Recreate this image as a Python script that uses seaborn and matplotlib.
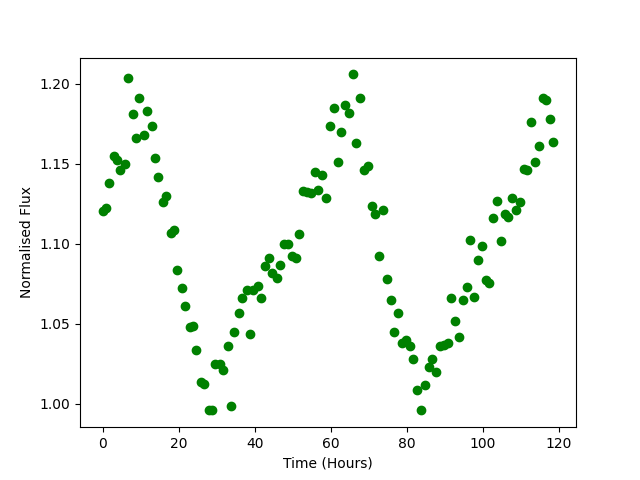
import numpy as np
import pandas as pd
import matplotlib
matplotlib.use("Agg")
import matplotlib.pyplot as plt
import seaborn as sns

# tempo em horas e fluxo normalizado
tempo = [0.0, 0.8, 1.8, 2.9, 3.9, 4.7, 5.8, 6.8, 7.9, 8.9,
         9.7, 10.8, 11.8, 12.9, 13.9, 14.7, 15.8, 16.8, 17.9, 18.9,
         19.7, 20.8, 21.8, 22.9, 23.7, 24.7, 25.8, 26.8, 27.9, 28.7,
         29.7, 30.8, 31.8, 32.9, 33.7, 34.7, 35.8, 36.8, 37.9, 38.7,
         39.7, 40.8, 41.8, 42.6, 43.7, 44.7, 45.8, 46.8, 47.6, 48.7,
         49.7, 50.8, 51.8, 52.6, 53.7, 54.7, 55.8, 56.8, 57.6, 58.7,
         59.7, 60.8, 61.8, 62.6, 63.7, 64.7, 65.8, 66.6, 67.6, 68.7,
         69.7, 70.8, 71.6, 72.6, 73.7, 74.7, 75.8, 76.6, 77.6, 78.7,
         79.7, 80.8, 81.6, 82.6, 83.7, 84.7, 85.8, 86.6, 87.6, 88.7,
         89.7, 90.8, 91.6, 92.6, 93.7, 94.7, 95.8, 96.6, 97.6, 98.7,
         99.7, 100.8, 101.6, 102.6, 103.7, 104.7, 105.8, 106.6, 107.6, 108.7,
         109.7, 110.8, 111.6, 112.6, 113.7, 114.7, 115.8, 116.6, 117.6, 118.6]

fluxo = [1.1206, 1.1223, 1.138, 1.155, 1.1525, 1.146, 1.150, 1.2035, 1.181, 1.166,
         1.191, 1.168, 1.183, 1.174, 1.154, 1.142, 1.126, 1.130, 1.107, 1.109,
         1.084, 1.0725, 1.061, 1.048, 1.049, 1.034, 1.014, 1.0125, 0.996, 0.996,
         1.025, 1.025, 1.021, 1.036, 0.999, 1.045, 1.057, 1.066, 1.071, 1.044,
         1.071, 1.074, 1.066, 1.086, 1.091, 1.082, 1.079, 1.087, 1.100, 1.100,
         1.0925, 1.091, 1.106, 1.133, 1.1325, 1.132, 1.145, 1.134, 1.143, 1.129,
         1.174, 1.185, 1.151, 1.170, 1.187, 1.182, 1.206, 1.163, 1.191, 1.146,
         1.149, 1.124, 1.119, 1.0925, 1.121, 1.078, 1.065, 1.045, 1.057, 1.038,
         1.040, 1.036, 1.028, 1.009, 0.996, 1.012, 1.023, 1.028, 1.020, 1.036,
         1.037, 1.038, 1.066, 1.052, 1.042, 1.065, 1.073, 1.1025, 1.067, 1.090,
         1.099, 1.0775, 1.0756, 1.116, 1.127, 1.102, 1.119, 1.117, 1.129, 1.121,
         1.126, 1.147, 1.146, 1.176, 1.151, 1.161, 1.191, 1.190, 1.178, 1.164]

df = pd.DataFrame({'tempo': tempo, 'fluxo': fluxo})

fig, ax = plt.subplots(figsize=(6.4, 4.8), dpi=100)

sns.scatterplot(data=df, x='tempo', y='fluxo', color='green', edgecolor='green',
                linewidth=1, s=36, ax=ax)

ax.set_xlabel('Time (Hours)')
ax.set_ylabel('Normalised Flux')

fig.savefig('out.png')
